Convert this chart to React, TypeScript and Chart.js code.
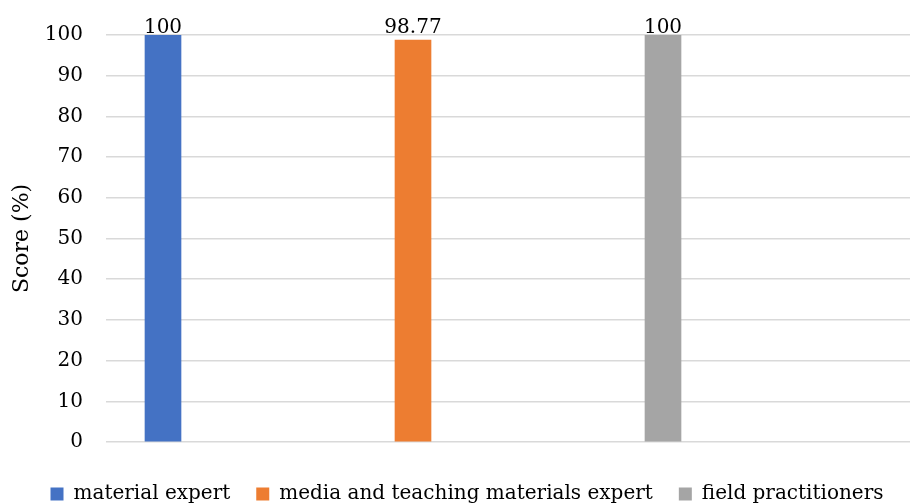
import React, { useEffect, useRef } from "react";
import { Chart, registerables } from "chart.js";

Chart.register(...registerables);

// Respondent groups and their validation scores
const groups = [
  "material expert",
  "media and teaching materials expert",
  "field practitioners",
];
const scores = [100, 98.77, 100];
const barColors = ["#4472C4", "#ED7D31", "#A5A5A5"];

// Value axis
const yMin = 0;
const yMax = 100;
const yStep = 10;
const yTitle = "Score (%)";

const FONT = "'DejaVu Serif', serif";

// Writes each bar's value above it, kept inside the canvas top
const valueLabels = {
  id: "valueLabels",
  afterDatasetsDraw(chart: any) {
    const ctx = chart.ctx;
    const top = chart.chartArea.top;
    ctx.save();
    ctx.font = `20px ${FONT}`;
    ctx.fillStyle = "#000";
    ctx.textAlign = "center";
    ctx.textBaseline = "alphabetic";
    chart.data.datasets.forEach((ds: any, i: number) => {
      const meta = chart.getDatasetMeta(i);
      meta.data.forEach((bar: any, j: number) => {
        const v = ds.data[j].y;
        const y = Math.max(bar.y - 8, top - 2.5);
        ctx.fillText(String(v), bar.x, y);
      });
    });
    ctx.restore();
  },
};

// Moves the legend row slightly right of centre
const legendNudge = {
  id: "legendNudge",
  afterLayout(chart: any) {
    const lg = chart.legend;
    if (lg) {
      lg.left += 12;
      lg.right += 12;
    }
  },
};

export default function App() {
  const canvasRef = useRef<HTMLCanvasElement | null>(null);

  useEffect(() => {
    if (!canvasRef.current) return;
    const chart = new Chart(canvasRef.current, {
      type: "bar",
      data: {
        datasets: groups.map((g, i) => ({
          label: g,
          data: [{ x: i, y: scores[i] }],
          backgroundColor: barColors[i],
          borderWidth: 0,
        })),
      },
      options: {
        responsive: false,
        animation: false,
        events: [],
        layout: { padding: { top: 34, left: 0, right: 0, bottom: 0 } },
        datasets: {
          bar: { barThickness: 36, grouped: false },
        },
        scales: {
          x: {
            type: "linear",
            offset: false,
            bounds: "data",
            min: -0.228,
            max: 2.988,
            ticks: { display: false },
            grid: { display: false, drawTicks: false, offset: false },
            border: { display: false },
            afterFit(scale: any) {
              scale.height = 16;
            },
          },
          y: {
            min: yMin,
            max: yMax,
            ticks: {
              stepSize: yStep,
              padding: 23,
              color: "#000",
              font: { family: FONT, size: 20 },
            },
            grid: { color: "#D9D9D9", lineWidth: 1.5, drawTicks: false },
            border: { display: false },
            title: {
              display: true,
              text: yTitle,
              color: "#000",
              font: { family: FONT, size: 22 },
              padding: { top: 9, bottom: 0 },
            },
            afterFit(scale: any) {
              scale.width = 106;
            },
          },
        },
        plugins: {
          legend: {
            position: "bottom",
            maxHeight: 46,
            labels: {
              boxWidth: 13,
              boxHeight: 13,
              padding: 26,
              color: "#000",
              font: { family: FONT, size: 20 },
            },
          },
          tooltip: { enabled: false },
        },
      },
      plugins: [valueLabels, legendNudge],
    } as any);
    return () => chart.destroy();
  }, []);

  return (
    <div
      style={{
        position: "fixed",
        left: 0,
        top: 0,
        width: 910,
        height: 504,
        background: "#fff",
      }}
    >
      <canvas ref={canvasRef} width={910} height={504} style={{ display: "block" }} />
    </div>
  );
}
